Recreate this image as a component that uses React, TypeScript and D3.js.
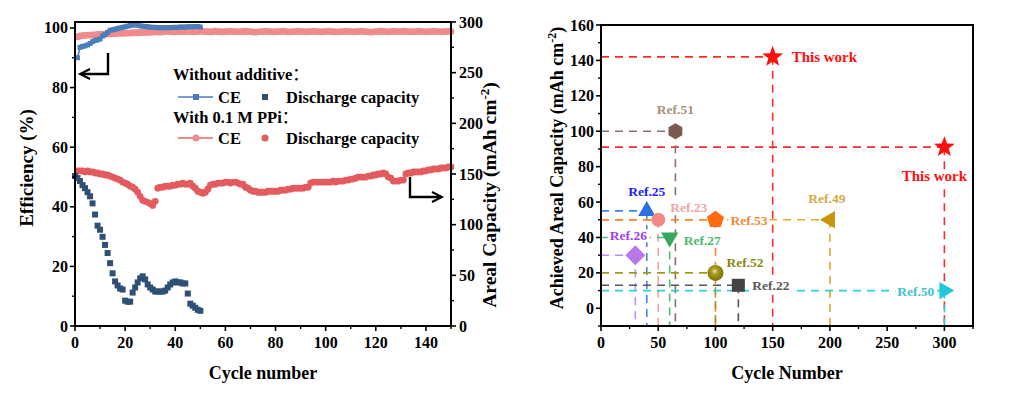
import React from "react";
import * as d3 from "d3";

// ---------------- Left panel data ----------------
// Without additive: CE (%) for cycles 1..50
const blueCE = [
  90.0, 93.5, 93.8, 94.0, 94.3, 94.8, 95.4, 95.8, 96.0, 96.3,
  97.3, 97.8, 98.5, 99.2, 99.4, 99.6, 99.8, 100.0, 100.2, 100.4,
  100.6, 100.8, 100.9, 101.3, 100.9, 100.7, 100.6, 100.5, 100.4, 100.3,
  100.2, 100.2, 100.1, 100.1, 100.1, 100.1, 100.1, 100.1, 100.2, 100.2,
  100.2, 100.3, 100.3, 100.3, 100.4, 100.4, 100.4, 100.5, 100.5, 100.3,
];
// Without additive: discharge capacity (mAh cm-2) for cycles 0..50
const blueCap = [
  148, 146, 143, 139, 136, 132, 128, 121, 110, 99,
  95, 88, 80, 72, 62, 52, 44, 40, 37, 36,
  25, 24, 24, 33, 38, 43, 47, 49, 46, 41,
  38, 36, 34, 34, 34, 34, 35, 38, 41, 43,
  44, 43, 43, 42, 42, 32, 22, 20, 18, 16, 15,
];
// With 0.1 M PPi: CE (%) for cycles 1..150
const redCE = [
  97.0, 97.3, 97.4, 97.5, 97.6, 97.6, 97.7, 97.7, 97.8, 97.8,
  97.9, 97.9, 98.0, 98.0, 98.1, 98.1, 98.2, 98.2, 98.2, 98.3,
  98.3, 98.3, 98.4, 98.4, 98.4, 98.5, 98.5, 98.5, 98.6, 98.6,
  98.6, 98.7, 98.7, 98.6, 98.7, 98.8, 98.9, 98.8, 98.8, 98.7,
  98.8, 98.8, 98.7, 98.8, 98.9, 98.8, 98.7, 98.8, 98.8, 98.9,
  98.9, 98.8, 98.8, 98.7, 98.8, 98.9, 98.8, 98.8, 98.7, 98.8,
  98.8, 98.9, 98.8, 98.8, 98.7, 98.8, 98.8, 98.9, 98.8, 98.8,
  98.7, 98.6, 98.7, 98.8, 98.8, 98.9, 98.8, 98.8, 98.7, 98.8,
  98.8, 98.8, 98.9, 98.8, 98.7, 98.7, 98.8, 98.8, 98.9, 98.8,
  98.8, 98.7, 98.8, 98.8, 98.9, 98.8, 98.8, 98.7, 98.8, 98.8,
  98.9, 98.8, 98.8, 98.7, 98.7, 98.8, 98.8, 98.9, 98.8, 98.8,
  98.7, 98.8, 98.8, 98.9, 98.8, 98.8, 98.7, 98.6, 98.7, 98.8,
  98.8, 98.9, 98.8, 98.8, 98.7, 98.8, 98.9, 98.8, 98.8, 98.8,
  98.9, 98.8, 98.8, 98.7, 98.8, 98.8, 98.9, 98.8, 98.8, 98.7,
  98.8, 98.8, 98.9, 98.8, 98.8, 98.7, 98.8, 98.8, 98.9, 98.8,
];
// With 0.1 M PPi: discharge capacity (mAh cm-2) for cycles 1..150
const redCap = [
  153, 153, 153, 152, 153, 152, 152, 151, 151, 150,
  150, 149, 149, 148, 147, 146, 145, 144, 142, 141,
  140, 138, 137, 135, 132, 128, 124, 123, 122, 121,
  119, 123, 136, 137, 137, 138, 138, 138, 139, 139,
  140, 140, 141, 140, 140, 141, 138, 136, 133, 132,
  131, 132, 135, 139, 140, 140, 141, 141, 141, 142,
  142, 141, 142, 142, 141, 140, 140, 137, 136, 134,
  133, 133, 132, 132, 132, 132, 133, 133, 133, 133,
  133, 134, 134, 134, 135, 135, 136, 136, 136, 136,
  136, 137, 137, 141, 142, 142, 142, 142, 142, 142,
  142, 142, 143, 142, 143, 143, 143, 144, 144, 145,
  145, 146, 147, 147, 147, 147, 148, 148, 149, 149,
  150, 150, 151, 150, 147, 146, 143, 143, 143, 144,
  144, 150, 151, 151, 152, 152, 152, 152, 153, 153,
  154, 154, 155, 155, 155, 156, 156, 156, 157, 157,
];

const leftXTicks = [0, 20, 40, 60, 80, 100, 120, 140];
const leftXMinor = [10, 30, 50, 70, 90, 110, 130, 150];
const leftYTicks = [0, 20, 40, 60, 80, 100];
const leftYMinor = [10, 30, 50, 70, 90];
const rightYTicks = [0, 50, 100, 150, 200, 250, 300];
const rightYMinor = [25, 75, 125, 175, 225, 275];

// ---------------- Right panel data ----------------
const refNames = ["This work", "This work", "Ref.51", "Ref.25", "Ref.23", "Ref.53", "Ref.49", "Ref.27", "Ref.26", "Ref.52", "Ref.22", "Ref.50"];
const refCycles = [150, 300, 65, 40, 50, 100, 200, 60, 30, 100, 120, 300];
const refCaps = [142, 91, 100, 55, 50, 50, 50, 40, 30, 20, 13, 10];

const rXTicks = [0, 50, 100, 150, 200, 250, 300];
const rXMinor = [25, 75, 125, 175, 225, 275, 325];
const rYTicks = [0, 20, 40, 60, 80, 100, 120, 140, 160];
const rYMinor = [-10, 10, 30, 50, 70, 90, 110, 130, 150];

// ---------------- Styles (separate from data) ----------------
type Sty = { shape: string; r: number; fill: string; line: string; text: string; dx: number; dy: number; anchor: string; fs: number };
const refStyles: Sty[] = [
  { shape: "star", r: 11, fill: "#ff1010", line: "#ff2a2a", text: "#ff1010", dx: 19, dy: 5, anchor: "start", fs: 15 },
  { shape: "star", r: 11, fill: "#ff1010", line: "#ff2a2a", text: "#ff1010", dx: -10, dy: 34, anchor: "middle", fs: 15 },
  { shape: "hexagon", r: 8, fill: "#7b5a52", line: "#8e7068", text: "#a8917a", dx: 0, dy: -17, anchor: "middle", fs: 13.5 },
  { shape: "triUp", r: 10, fill: "#2a6fe6", line: "#3f85f0", text: "#1a22ff", dx: 0, dy: -15, anchor: "middle", fs: 13.5 },
  { shape: "circle", r: 7, fill: "#f28888", line: "#f4a0a0", text: "#f4a4a4", dx: 12, dy: -8, anchor: "start", fs: 13.5 },
  { shape: "pentagon", r: 9, fill: "#ff6a10", line: "#ff8030", text: "#f08c3c", dx: 15, dy: 5, anchor: "start", fs: 13.5 },
  { shape: "triLeft", r: 10, fill: "#c8940a", line: "#e0a828", text: "#d8a840", dx: -3, dy: -17, anchor: "middle", fs: 13.5 },
  { shape: "triDown", r: 10, fill: "#38a860", line: "#48be74", text: "#4cbc70", dx: 14, dy: 8, anchor: "start", fs: 13.5 },
  { shape: "diamond", r: 10, fill: "#b878e8", line: "#c08ef0", text: "#a040f0", dx: -7, dy: -15, anchor: "middle", fs: 13.5 },
  { shape: "circle", r: 8, fill: "#8c8200", line: "#a09a20", text: "#8a8a10", dx: 11, dy: -6, anchor: "start", fs: 13.5 },
  { shape: "square", r: 6.5, fill: "#444444", line: "#555555", text: "#5a5a5a", dx: 14, dy: 5, anchor: "start", fs: 13.5 },
  { shape: "triRight", r: 10, fill: "#20c8d8", line: "#28d0e0", text: "#40c4d0", dx: -10, dy: 5, anchor: "end", fs: 13.5 },
];

const FONT = "'Liberation Serif', 'Times New Roman', serif";
const CJK = "'Noto Sans CJK SC', sans-serif";
const C_BLUE_CE = "#4a7ebb";
const C_BLUE_CAP = "#2f5074";
const C_RED_CE = "#f08a8c";
const C_RED_CAP = "#e35b5e";

function polyPath(n: number, r: number, rotDeg: number, inner?: number) {
  const pts: [number, number][] = [];
  const total = inner ? n * 2 : n;
  for (let i = 0; i < total; i++) {
    const a = (rotDeg * Math.PI) / 180 + (i * 2 * Math.PI) / total;
    const rr = inner && i % 2 === 1 ? inner : r;
    pts.push([rr * Math.sin(a), -rr * Math.cos(a)]);
  }
  return (d3.line()(pts) || "") + "Z";
}

function shapePath(shape: string, r: number) {
  switch (shape) {
    case "star": return polyPath(5, r, 0, r * 0.42);
    case "hexagon": return polyPath(6, r, 0);
    case "pentagon": return polyPath(5, r, 0);
    case "triUp": return polyPath(3, r, 0);
    case "triDown": return polyPath(3, r, 180);
    case "triLeft": return polyPath(3, r, 270);
    case "triRight": return polyPath(3, r, 90);
    case "diamond": return polyPath(4, r, 0);
    case "square": return polyPath(4, r * 1.414, 45);
    default: return d3.symbol(d3.symbolCircle, Math.PI * r * r)() || "";
  }
}

function LeftPanel() {
  const x = d3.scaleLinear().domain([0, 150]).range([75, 451]);
  const yL = d3.scaleLinear().domain([0, 102]).range([326, 22]);
  const yR = d3.scaleLinear().domain([0, 300]).range([326, 22]);
  const blueCELine = d3.line<number>().x((_, i) => x(i + 1)).y((d) => yL(d));
  const redCELine = d3.line<number>().x((_, i) => x(i + 1)).y((d) => yL(d));
  const [x0, x1] = x.range();
  const [yb, yt] = yL.range();
  return (
    <g fontFamily={FONT} fontWeight="bold">
      {/* series */}
      <path d={redCELine(redCE) || ""} fill="none" stroke={C_RED_CE} strokeWidth={2} />
      {redCE.map((d, i) => (
        <circle key={"rce" + i} cx={x(i + 1)} cy={yL(d)} r={3.4} fill={C_RED_CE} />
      ))}
      <path d={blueCELine(blueCE) || ""} fill="none" stroke={C_BLUE_CE} strokeWidth={1.6} />
      {blueCE.map((d, i) => (
        <rect key={"bce" + i} x={x(i + 1) - 2.5} y={yL(d) - 2.5} width={5} height={5} fill={C_BLUE_CE} />
      ))}
      {redCap.map((d, i) => (
        <circle key={"rcap" + i} cx={x(i + 1)} cy={yR(d)} r={3.4} fill={C_RED_CAP} />
      ))}
      {blueCap.map((d, i) => (
        <rect key={"bcap" + i} x={x(i) - 3} y={yR(d) - 3} width={6} height={6} fill={C_BLUE_CAP} />
      ))}

      {/* frame */}
      <line x1={x0} x2={x1} y1={yt} y2={yt} stroke="#000" strokeWidth={2} />
      <line x1={x0 - 1} x2={x1 + 1} y1={yb} y2={yb} stroke="#000" strokeWidth={2} />
      <line x1={x0} x2={x0} y1={yt - 1} y2={yb} stroke="#000" strokeWidth={2} />
      <line x1={x1} x2={x1} y1={yt - 1} y2={yb} stroke="#000" strokeWidth={2} />

      {/* x ticks */}
      {leftXTicks.map((t) => (
        <g key={"lx" + t}>
          <line x1={x(t)} x2={x(t)} y1={yb} y2={yb + 5} stroke="#000" strokeWidth={1.6} />
          <text x={x(t)} y={348} textAnchor="middle" fontSize={16}>{t}</text>
        </g>
      ))}
      {leftXMinor.map((t) => (
        <line key={"lxm" + t} x1={x(t)} x2={x(t)} y1={yb} y2={yb + 3} stroke="#000" strokeWidth={1.4} />
      ))}
      {/* left y ticks */}
      {leftYTicks.map((t) => (
        <g key={"ly" + t}>
          <line x1={x0} x2={x0 - 5} y1={yL(t)} y2={yL(t)} stroke="#000" strokeWidth={1.6} />
          <text x={x0 - 7} y={yL(t) + 5.5} textAnchor="end" fontSize={16}>{t}</text>
        </g>
      ))}
      {leftYMinor.map((t) => (
        <line key={"lym" + t} x1={x0} x2={x0 - 3} y1={yL(t)} y2={yL(t)} stroke="#000" strokeWidth={1.4} />
      ))}
      {/* right y ticks */}
      {rightYTicks.map((t) => (
        <g key={"ry" + t}>
          <line x1={x1} x2={x1 + 5} y1={yR(t)} y2={yR(t)} stroke="#000" strokeWidth={1.6} />
          <text x={x1 + 8} y={yR(t) + 5.5} textAnchor="start" fontSize={16}>{t}</text>
        </g>
      ))}
      {rightYMinor.map((t) => (
        <line key={"rym" + t} x1={x1} x2={x1 + 3} y1={yR(t)} y2={yR(t)} stroke="#000" strokeWidth={1.4} />
      ))}

      {/* axis titles */}
      <text x={263} y={379} textAnchor="middle" fontSize={18}>Cycle number</text>
      <text transform="translate(33,168) rotate(-90)" textAnchor="middle" fontSize={19}>Efficiency (%)</text>
      <text transform="translate(496,195) rotate(-90)" textAnchor="middle" fontSize={19.5}>
        Areal Capacity (mAh cm<tspan dy={-7} fontSize={13}>-2</tspan><tspan dy={7}>)</tspan>
      </text>

      {/* arrows */}
      <path d="M108,53 V74 H81" fill="none" stroke="#000" strokeWidth={2.4} />
      <path d="M90,69 L80,74 L90,79" fill="none" stroke="#000" strokeWidth={2} />
      <path d="M410,177 V197 H441" fill="none" stroke="#000" strokeWidth={2.4} />
      <path d="M432,192 L442,197 L432,202" fill="none" stroke="#000" strokeWidth={2} />

      {/* legend */}
      <text x={173} y={80} fontSize={16.5}>Without additive<tspan fontFamily={CJK} fontWeight="normal">：</tspan></text>
      <line x1={178} x2={213} y1={97} y2={97} stroke={C_BLUE_CE} strokeWidth={1.6} />
      <rect x={193} y={94} width={6} height={6} fill={C_BLUE_CE} />
      <text x={218} y={103} fontSize={16.5}>CE</text>
      <rect x={262} y={94} width={6} height={6} fill={C_BLUE_CAP} />
      <text x={286} y={103} fontSize={16.5}>Discharge capacity</text>
      <text x={173} y={123} fontSize={16.5}>With 0.1 M PPi<tspan fontFamily={CJK} fontWeight="normal">：</tspan></text>
      <line x1={178} x2={213} y1={138} y2={138} stroke={C_RED_CE} strokeWidth={1.8} />
      <circle cx={196} cy={138} r={3.5} fill={C_RED_CE} />
      <text x={218} y={144} fontSize={16.5}>CE</text>
      <circle cx={265} cy={138} r={3.5} fill={C_RED_CAP} />
      <text x={286} y={144} fontSize={16.5}>Discharge capacity</text>
    </g>
  );
}

function RightPanel() {
  const x = d3.scaleLinear().domain([0, 325]).range([601, 973]);
  const y = d3.scaleLinear().domain([-10, 160]).range([326, 25]);
  const [x0, x1] = x.range();
  const [yb, yt] = y.range();
  const idx = refNames.map((_, i) => i);
  const order = [0, 1, 2, 4, 3, 6, 5, 7, 8, 9, 10, 11];
  return (
    <g fontFamily={FONT} fontWeight="bold">
      <defs>
        <radialGradient id="g52" cx="45%" cy="40%" r="60%">
          <stop offset="0%" stopColor="#e8e0a0" />
          <stop offset="35%" stopColor="#a89a20" />
          <stop offset="100%" stopColor="#7a7000" />
        </radialGradient>
      </defs>
      {order.map((i) => {
        const s = refStyles[i];
        const px = x(refCycles[i]);
        const py = y(refCaps[i]);
        return (
          <g key={"gd" + i} stroke={s.line} strokeWidth={1.6} strokeDasharray="8,6" fill="none">
            <line x1={x0} x2={px} y1={py} y2={py} />
            <line x1={px} x2={px} y1={py} y2={yb} />
          </g>
        );
      })}
      {idx.map((i) => {
        const s = refStyles[i];
        return (
          <path
            key={"mk" + i}
            d={shapePath(s.shape, s.r)}
            transform={`translate(${x(refCycles[i])},${y(refCaps[i])})`}
            fill={refNames[i] === "Ref.52" ? "url(#g52)" : s.fill}
          />
        );
      })}
      {idx.map((i) => {
        const s = refStyles[i];
        return (
          <text
            key={"lb" + i}
            x={x(refCycles[i]) + s.dx}
            y={y(refCaps[i]) + s.dy}
            textAnchor={s.anchor}
            fontSize={s.fs}
            fill={s.text}
            stroke="#fff"
            strokeWidth={6}
            strokeLinejoin="round"
            style={{ paintOrder: "stroke" }}
          >
            {refNames[i]}
          </text>
        );
      })}

      <line x1={x0} x2={x1} y1={yt} y2={yt} stroke="#000" strokeWidth={2} />
      <line x1={x0 - 1} x2={x1 + 1} y1={yb} y2={yb} stroke="#000" strokeWidth={2} />
      <line x1={x0} x2={x0} y1={yt - 1} y2={yb} stroke="#000" strokeWidth={2} />
      <line x1={x1} x2={x1} y1={yt - 1} y2={yb} stroke="#000" strokeWidth={2} />

      {rXTicks.map((t) => (
        <g key={"rx" + t}>
          <line x1={x(t)} x2={x(t)} y1={yb} y2={yb + 5} stroke="#000" strokeWidth={1.6} />
          <text x={x(t)} y={348} textAnchor="middle" fontSize={16}>{t}</text>
        </g>
      ))}
      {rXMinor.map((t) => (
        <line key={"rxm" + t} x1={x(t)} x2={x(t)} y1={yb} y2={yb + 3} stroke="#000" strokeWidth={1.4} />
      ))}
      {rYTicks.map((t) => (
        <g key={"ryt" + t}>
          <line x1={x0} x2={x0 - 5} y1={y(t)} y2={y(t)} stroke="#000" strokeWidth={1.6} />
          <text x={x0 - 7} y={y(t) + 5.5} textAnchor="end" fontSize={16}>{t}</text>
        </g>
      ))}
      {rYMinor.map((t) => (
        <line key={"rym" + t} x1={x0} x2={x0 - 3} y1={y(t)} y2={y(t)} stroke="#000" strokeWidth={1.4} />
      ))}

      <text x={787} y={379} textAnchor="middle" fontSize={18}>Cycle Number</text>
      <text transform="translate(563,168) rotate(-90)" textAnchor="middle" fontSize={18}>
        Achieved Areal Capacity (mAh cm<tspan dy={-7} fontSize={12}>-2</tspan><tspan dy={7}>)</tspan>
      </text>
    </g>
  );
}

export default function App() {
  return (
    <svg width={1010} height={399} viewBox="0 0 1010 399" style={{ display: "block", position: "absolute", left: 0, top: 0, background: "#fff" }}>
      <rect x={0} y={0} width={1010} height={399} fill="#fff" />
      <LeftPanel />
      <RightPanel />
    </svg>
  );
}
